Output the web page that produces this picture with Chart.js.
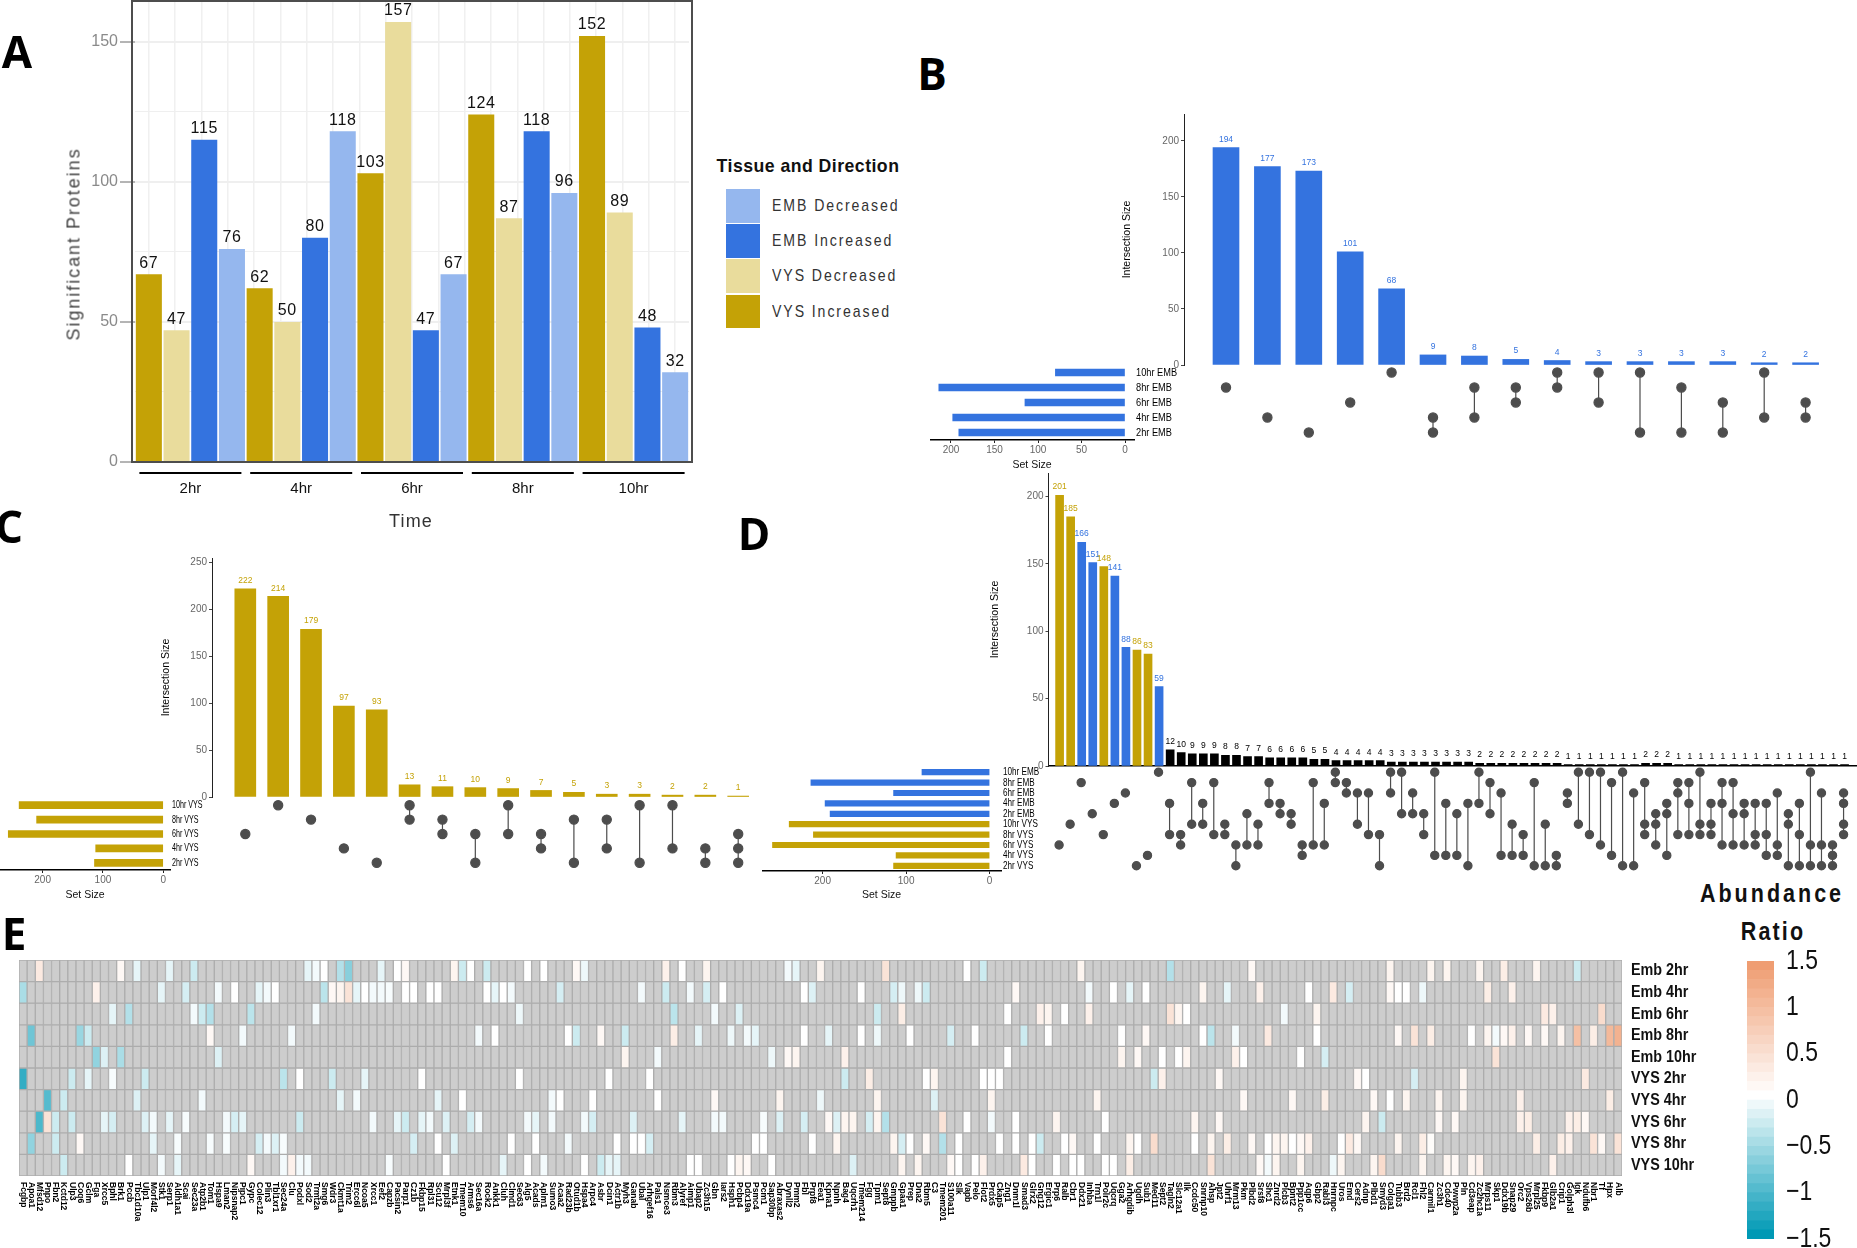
<!DOCTYPE html>
<html>
<head>
<meta charset="utf-8">
<title>Significant proteins by tissue and time</title>
<script src="https://cdn.jsdelivr.net/npm/chart.js@4"></script>
<style>
body { margin: 0; background: #fff; width: 1857px; height: 1248px; overflow: hidden; position: relative; }
canvas { position: absolute; }
.txt { position: absolute; white-space: nowrap; transform-origin: center; }
.swatch { position: absolute; }
</style>
</head>
<body>
<script>
// panel A
const timeLabels = ["2hr", "4hr", "6hr", "8hr", "10hr"];
const vysIncreased = [67, 62, 103, 124, 152];
const vysDecreased = [47, 50, 157, 87, 89];
const embIncreased = [115, 80, 47, 118, 48];
const embDecreased = [76, 118, 67, 96, 32];

// panel B
const bSetNames = ["10hr EMB", "8hr EMB", "6hr EMB", "4hr EMB", "2hr EMB"];
const bSetSizes = [80, 214, 115, 198, 191];
const bIntersections = [194, 177, 173, 101, 68, 9, 8, 5, 4, 3, 3, 3, 3, 2, 2];
const bMembers = [[1], [3], [4], [2], [0], [3, 4], [1, 3], [1, 2], [0, 1], [0, 2], [0, 4], [1, 4], [2, 4], [0, 3], [2, 3]];

// panel C
const cSetNames = ["10hr VYS", "8hr VYS", "6hr VYS", "4hr VYS", "2hr VYS"];
const cSetSizes = [239, 210, 257, 112, 114];
const cIntersections = [222, 214, 179, 97, 93, 13, 11, 10, 9, 7, 5, 3, 3, 2, 2, 1];
const cMembers = [[2], [0], [1], [3], [4], [0, 1], [1, 2], [2, 4], [0, 2], [2, 3], [1, 4], [1, 3], [0, 4], [0, 3], [3, 4], [2, 3, 4]];

// panel D
const dSetNames = ["10hr EMB", "8hr EMB", "6hr EMB", "4hr EMB", "2hr EMB", "10hr VYS", "8hr VYS", "6hr VYS", "4hr VYS", "2hr VYS"];
const dSetSizes = [81, 214, 115, 197, 191, 240, 211, 260, 112, 115];
const dIntersections = [201, 185, 166, 151, 148, 141, 88, 86, 83, 59,
  12, 10, 9, 9, 9, 8, 8, 7, 7, 6, 6, 6, 6, 5, 5, 4, 4, 4, 4, 4,
  3, 3, 3, 3, 3, 3, 3, 3, 2, 2, 2, 2, 2, 2, 2, 2,
  1, 1, 1, 1, 1, 1, 1, 2, 2, 2,
  1, 1, 1, 1, 1, 1, 1, 1, 1, 1, 1, 1, 1, 1, 1, 1];
const dSingleTissue = ["V", "V", "E", "E", "V", "E", "E", "V", "V", "E"];
const dMembers = [[7], [5], [1], [4], [6], [3], [2], [9], [8], [0],
  [3, 6], [6, 7], [1, 5], [3, 5], [1, 6], [5, 6], [7, 9], [4, 7], [5, 7], [1, 3], [3, 4], [4, 5], [7, 8], [1, 7],
  [3, 7], [0, 1], [1, 2], [2, 5], [2, 6], [6, 9], [0, 2], [0, 4], [2, 4], [4, 6], [0, 8], [3, 8], [4, 8], [3, 9],
  [0, 3], [1, 4], [2, 8], [5, 8], [6, 8], [1, 9], [5, 9], [8, 9], [2, 3], [0, 5], [0, 6], [0, 7], [1, 8], [0, 9], [2, 9],
  [1, 5, 6], [4, 5, 7], [3, 4, 8], [1, 2, 6], [1, 3, 6], [0, 5, 6], [3, 5, 6], [1, 3, 7], [1, 4, 7], [3, 4, 7], [3, 6, 7],
  [3, 6, 8], [2, 7, 8], [4, 5, 9], [3, 6, 9], [0, 7, 9], [2, 7, 9], [7, 8, 9], [2, 3, 5, 6]];

// panel E, every row lists [gene index, ratio], genes not listed have no value
const heatRowNames = ["Emb 2hr", "Emb 4hr", "Emb 6hr", "Emb 8hr", "Emb 10hr", "VYS 2hr", "VYS 4hr", "VYS 6hr", "VYS 8hr", "VYS 10hr"];
const emb2hr = [[2,.3],[12,.1],[14,-.15],[18,-.15],[21,-.3],[35,-.15],[36,-.07],[37,0],[39,-.45],[40,-.7],[44,-.15],[46,0],[47,.1],[53,.15],[54,-.3],[55,0],[57,-.3],[62,0],[64,0],[68,.1],[69,-.1],
  [79,.2],[81,0],[84,.15],[94,-.07],[95,-.15],[98,.15],[106,.4],[116,0],[118,-.3],[130,.15],[141,-.45],
  [151,.1],[168,.15],[173,.15],[175,.15],[179,.15],[182,.25],[186,.15],[191,-.3]];
const emb4hr = [[0,-.5],[9,.2],[17,-.15],[20,-.25],[24,-.07],[26,0],[29,-.15],[30,-.07],[31,0],[37,-.4],[38,.1],[39,.15],[40,.4],[41,-.15],[42,0],[43,-.07],[44,-.07],[45,-.05],[47,0],[48,0],[50,0],[51,0],[57,0],[58,-.15],[59,0],[60,-.07],[66,-.25],
  [76,-.07],[79,-.3],[82,-.07],[84,-.25],[86,0],[96,0],[97,-.2],[103,0],[107,-.25],[108,-.1],[110,-.1],[111,-.3],[122,.1],[131,-.07],[134,0],[136,-.15],[138,0],[145,.15],[148,-.15],
  [152,.2],[158,0],[161,.3],[163,-.25],[168,.1],[169,0],[170,0],[172,-.1],[180,.25],[183,.2]];
const emb6hr = [[11,-.15],[13,-.45],[21,-.07],[22,-.3],[23,-.45],[28,-.4],[36,-.07],[61,-.1],
  [80,-.4],[85,-.07],[88,-.2],[105,-.3],[108,.25],[121,0],[125,.2],[126,.15],[128,0],[131,.2],[141,.4],[142,.15],[143,0],
  [155,-.07],[159,.15],[187,.3],[188,.2],[194,.5]];
const emb8hr = [[1,-.85],[7,-.6],[8,-.3],[23,.1],[27,-.07],[33,-.07],[56,-.07],[58,0],[67,0],[68,-.3],[71,.1],
  [74,-.3],[80,.25],[83,-.15],[87,-.1],[89,-.07],[90,-.15],[96,0],[99,-.15],[103,0],[105,-.1],[109,0],[114,-.25],[117,0],[123,-.3],[126,0],[135,0],[138,.1],[145,0],[146,-.4],[149,-.07],
  [153,.3],[159,0],[169,.1],[171,.4],[173,.25],[178,0],[180,.15],[181,-.07],[182,.1],[183,.2],[185,.1],[187,.1],[189,.15],[191,.9],[193,.25],[195,1],[196,1.1]];
const emb10hr = [[9,-.65],[10,-.2],[12,-.5],[24,-.2],
  [74,.15],[78,-.07],[92,-.1],[94,.1],[95,.15],[101,.2],[121,0],[135,.15],[137,.1],[140,0],[142,0],[143,.15],[149,.2],
  [150,0],[157,0],[160,-.25],[181,.4]];
const vys2hr = [[0,-1.2],[6,-.3],[8,-.15],[11,-.05],[15,-.3],[32,-.4],[34,0],[38,-.3],[42,-.15],[49,0],[61,0],[72,0],
  [77,0],[101,-.3],[104,.25],[111,0],[112,.15],[118,0],[119,0],[120,0],[139,-.3],[140,.2],[147,.1],
  [164,.1],[165,0],[171,-.25],[177,.15],[192,.3]];
const vys4hr = [[3,-1],[5,-.3],[14,-.2],[22,-.07],[39,-.15],[41,-.07],[51,-.15],[54,0],[65,-.07],[66,0],[70,0],
  [78,0],[85,.1],[93,.15],[98,-.1],[105,.15],[112,-.2],[119,.15],[132,.15],
  [150,.1],[156,.1],[160,.25],[166,.1],[168,0],[170,.15],[174,.15],[177,.15],[184,.2],[195,.25]];
const vys6hr = [[2,-1.05],[3,.4],[4,-.3],[6,-.3],[10,-.15],[11,-.25],[15,-.2],[16,-.07],[18,-.15],[20,-.05],[25,-.07],[26,-.25],[27,-.15],[34,-.3],[43,-.07],[46,-.15],[47,-.3],[49,-.15],[50,-.07],[52,-.2],[55,-.25],[56,-.07],[62,-.07],[63,-.15],[65,-.07],[69,-.07],[70,-.25],
  [75,-.2],[81,-.15],[85,-.07],[86,-.07],[91,-.05],[93,-.2],[96,-.25],[99,.1],[100,-.2],[101,.15],[102,.15],[104,-.25],[105,.15],[106,-.45],[113,.4],[116,0],[119,-.07],[122,0],[127,.15],[133,0],[144,.15],[147,.1],
  [165,.15],[167,-.3],[174,.1],[176,.1],[184,.2],[185,.25],[190,.2],[191,.25],[192,.1]];
const vys8hr = [[1,-.65],[4,-.3],[7,.1],[16,-.15],[19,-.05],[23,-.05],[25,-.05],[29,-.25],[30,-.07],[31,-.2],[32,-.05],[48,-.25],[51,0],[53,-.2],[60,0],[63,0],[67,-.07],[73,0],
  [75,0],[76,0],[77,-.25],[90,0],[91,0],[97,0],[100,.15],[107,.15],[108,-.25],[109,0],[111,.1],[113,-.45],[115,0],[120,0],[122,0],[124,0],[125,-.3],[128,0],[129,.1],[132,0],[136,.15],[137,0],[139,.5],[144,0],[146,.15],[148,.25],
  [151,.1],[153,0],[154,.15],[155,.15],[156,0],[157,.1],[158,.2],[162,0],[163,.3],[164,.1],[169,.15],[172,.25],[173,.05],[186,.25],[189,.25],[190,.2],[193,.4],[194,.1],[196,.4]];
const vys10hr = [[5,-.3],[13,0],[17,-.07],[19,-.15],[28,.1],[32,-.07],[33,.2],[34,-.07],[35,-.07],[45,-.05],[52,0],[59,-.15],[62,0],[64,-.07],[69,0],[71,-.3],[72,-.15],[73,-.15],
  [82,0],[83,0],[87,0],[88,.15],[89,.1],[92,0],[102,-.2],[108,.15],[110,.15],[114,.1],[115,0],[117,0],[118,.2],[123,.3],[124,0],[127,0],[129,0],[130,0],[133,0],[134,0],[136,.25],[146,.4],
  [152,.1],[153,-.07],[154,.15],[157,.15],[161,-.1],[162,.15],[166,.15],[167,.5],[172,.15],[175,.15],[176,.1],[178,.15],[179,.2],[188,.2]];
const heatRows = [emb2hr, emb4hr, emb6hr, emb8hr, emb10hr, vys2hr, vys4hr, vys6hr, vys8hr, vys10hr];
const geneLabels = ["Fcgbp","Apoa1","Mfsd12","Pnpo","Fbn2","Kctd12","Ulp3","Coq6","Gclm","Fga","Xrcc5","Bphl","Brk1","Pccb","Tbc1d10a","Ulp1","Morf4l2","Stk1","Serp1","Aldh1a1","Scai","Sec23a","Atp2b1","Tom1","Hspa9","Lman2","Nipsnap2","Pipc1","Gypc","Colec12","Plin3","Tbl1xr1","Sec24a","Clu","Podxl","Sod2","Trmt2a","Smg6","Wdr3","Ckmt1a","Trim2","Ercc6l","Ncoa5","Xrcc1","Eef2","Capzb","Pacsin2","Parp1","Cz1b","Fkbp15","Rpl31","Scu12","Mrpl3f","Etnk1","Tmem10","Arms6","Sec16a","Rock2","Ankk1","Cluh","Clmd1","Sec63","Alg5","Acads","Aplm1","Sumo3","Acaa2","Rad23b","Otud1b","Hspa4","Arpc4","Asbr","Dcin1","Actr1b",
  "Myh3","Ganab","Ubal","Arhgef16","Pals1","Nsmce3","Rbm3","Alyref","Aimp1","Ubap2","Zc3h15","Gbn","Iars2","Hsph1","Pcbp4","Ddx19a","Psmc4","Pcm1","Sap30bp","Abraxas2","Dynll2","Pmm2","Fbl","Prpf8","Eea1","Kpna1","Npnh","Bag4","Uqcrh1","Tmem214","Fgg","Tpm1","Sept8","Gmppb","Gpaa1","Prep","Dna2","Rbm5","C3","Tmem201","S100a11","Slk","Vapb","Pelo","Flot2","Prdx5","Ckap5","Zng1","Dnm1l","Smad3","Glrx2","Gng12","Ergic1","Prp6","Ralb","Cbr1","Ddx21","Inhba","Trn1l","Polr2c","Uqcrq","Gga2","Arhgdib","Ugdh","Sub1","Med11","Sept2","Tagln2","Slc12a1","Ilk","Ccdc50","Snrnp10","Ahsp","Jpt2","Uhrf1","Mrm13",
  "Pkm","Plbd2","Srsf8","Shc1","Znrd2","Plcb3","Bpnt2","Ppp1cc","Aqp6","Gbp2","Rabl3","Hnrnpc","Uros","Emd","Cers2","Adnp","Plbd1","Smyd3","Colga1","Tubb3","Brd2","Rcl1","Fhl2","Carmil1","Zc3h1","Cdc40","Pwwp2a","Pln","Cd3eap","Zc2hc1a","Mrps11","Skp1","Ddx19b","Snap29","Orc2","Vps26b","Mrpl25","Fkbp9","Glb2a1","Crip1","Golph3l","Igk","Ndufb6","Nbr1","Tf","Hpx","Alb"];
const ratioBreaks = [-1.5,-1.4,-1.3,-1.2,-1.1,-1,-.9,-.8,-.7,-.6,-.5,-.4,-.3,-.2,-.1,0,.1,.2,.3,.4,.5,.6,.7,.8,.9,1,1.1,1.2,1.3,1.4];

const GOLD = "#c4a206", GOLD_LIGHT = "#e9dc9c", BLUE = "#3473df", BLUE_LIGHT = "#95b7ee", DOT = "#4d4d4d";
const SANS = '"Liberation Sans", sans-serif';

Chart.defaults.animation = false;
Chart.defaults.responsive = false;
Chart.defaults.devicePixelRatio = 1;
Chart.defaults.font.family = SANS;
Chart.defaults.plugins.legend.display = false;
Chart.defaults.plugins.tooltip.enabled = false;

function addCanvas(left, top, width, height) {
  const c = document.createElement("canvas");
  c.width = width;
  c.height = height;
  c.style.left = left + "px";
  c.style.top = top + "px";
  document.body.appendChild(c);
  return c;
}

function addText(text, cx, cy, css, transform) {
  const d = document.createElement("div");
  d.className = "txt";
  d.textContent = text;
  d.style.cssText = `left:${cx}px;top:${cy}px;transform:translate(-50%,-50%) ${transform || ""};${css}`;
  document.body.appendChild(d);
}

// keeps the plot area exactly where the margins put it
const fixBox = (w, h) => s => {
  if (w !== undefined) s.width = w;
  if (h !== undefined) s.height = h;
  s.paddingTop = s.paddingBottom = s.paddingLeft = s.paddingRight = 0;
};

const valueLabels = {
  id: "valueLabels",
  afterDatasetsDraw(chart, args, o) {
    const ctx = chart.ctx;
    ctx.save();
    ctx.font = o.labelFont;
    ctx.textAlign = "center";
    ctx.textBaseline = "bottom";
    ctx.letterSpacing = o.labelSpacing || "0px";
    chart.data.datasets.forEach((ds, i) => {
      chart.getDatasetMeta(i).data.forEach((bar, j) => {
        const v = ds.data[j];
        ctx.fillStyle = o.labelColor || ds.backgroundColor[j];
        ctx.fillText(v.y === undefined ? v : v.y, bar.x, bar.y - o.labelGap);
      });
    });
    ctx.restore();
  },
};

// tick labels of a right hand axis, pressed narrower than the font is
const narrowTicks = {
  id: "narrowTicks",
  afterDraw(chart, args, o) {
    const ctx = chart.ctx, s = chart.scales.y;
    ctx.save();
    ctx.font = o.tickFont;
    ctx.fillStyle = o.tickColor;
    ctx.textAlign = "left";
    ctx.textBaseline = "middle";
    s.ticks.forEach((t, i) => {
      ctx.save();
      ctx.translate(s.left + o.tickGap, s.getPixelForTick(i));
      ctx.scale(o.tickScale, 1);
      ctx.fillText(t.label, 0, 0);
      ctx.restore();
    });
    ctx.restore();
  },
};

// frame and the group rules below panel A
const frameA = {
  id: "frameA",
  afterDraw(chart) {
    const { ctx, chartArea: a, scales } = chart;
    ctx.save();
    ctx.strokeStyle = "#4d4d4d";
    ctx.lineWidth = 2;
    ctx.strokeRect(a.left - 3, a.top, a.right - a.left + 6, a.bottom - a.top);
    ctx.strokeStyle = "#000";
    timeLabels.forEach((t, i) => {
      const x = scales.x.getPixelForTick(i);
      ctx.beginPath();
      ctx.moveTo(x - 51, a.bottom + 11);
      ctx.lineTo(x + 51, a.bottom + 11);
      ctx.stroke();
    });
    ctx.restore();
  },
};

// panel A chart
const aLeft = 135, aTop = 1, aRight = 689, aBottom = 462;
const gridAt = Array.from({ length: 20 }, (_, i) => i + 0.5);
new Chart(addCanvas(0, 0, aRight + 6, aBottom + 60), {
  type: "bar",
  data: {
    labels: timeLabels,
    datasets: [
      { label: "VYS Increased", data: vysIncreased, backgroundColor: vysIncreased.map(() => GOLD) },
      { label: "VYS Decreased", data: vysDecreased, backgroundColor: vysDecreased.map(() => GOLD_LIGHT) },
      { label: "EMB Increased", data: embIncreased, backgroundColor: embIncreased.map(() => BLUE) },
      { label: "EMB Decreased", data: embDecreased, backgroundColor: embDecreased.map(() => BLUE_LIGHT) },
    ],
  },
  options: {
    layout: { padding: { top: aTop, right: 6 } },
    datasets: { bar: { barPercentage: 0.94, categoryPercentage: 1 } },
    scales: {
      x: {
        grid: { display: false }, border: { display: false },
        ticks: { color: "#111", font: { size: 15 }, padding: 10 },
        afterFit: fixBox(undefined, 60),
      },
      xg: {
        type: "linear", position: "bottom", min: 0, max: 20,
        grid: { color: "#f0f0f0", lineWidth: 1.5, drawTicks: false }, border: { display: false },
        ticks: { display: false, autoSkip: false },
        afterBuildTicks: s => { s.ticks = gridAt.map(v => ({ value: v })); },
        afterFit: fixBox(undefined, 0),
      },
      y: {
        min: 0, max: 164.5,
        ticks: {
          stepSize: 25, includeBounds: false, color: "#8a8a8a", font: { size: 16 }, padding: 2,
          callback: v => (v % 50 === 0 ? v : ""),
        },
        grid: {
          color: "#efefef", tickLength: 15,
          lineWidth: c => (c.tick && c.tick.value % 50 === 0 ? 2 : 1),
          tickColor: c => (c.tick && c.tick.value % 50 === 0 ? "#6a6a6a" : "rgba(0,0,0,0)"),
          tickWidth: 1,
        },
        border: { display: false },
        afterFit: fixBox(aLeft),
      },
    },
    plugins: { valueLabels: { labelFont: "16px " + SANS, labelColor: "#111", labelGap: 3, labelSpacing: "0.6px" } },
  },
  plugins: [valueLabels, frameA],
});

function drawUpset(g, names, setSizes, sizes, members, colors) {
  // intersection bars
  const titleLeft = g.titleX - 7;
  new Chart(addCanvas(titleLeft, g.top - 6, g.right - titleLeft, g.base - g.top + 14), {
    type: "bar",
    data: {
      datasets: [{
        data: sizes.map((v, i) => ({ x: i, y: v })),
        backgroundColor: colors,
        barThickness: g.barW,
      }],
    },
    options: {
      layout: { padding: { top: 6, bottom: 8 } },
      scales: {
        x: {
          type: "linear", offset: false, display: !!g.baseLine,
          min: (g.axisX - g.c0) / g.step, max: (g.right - g.c0) / g.step,
          grid: { display: false }, border: { color: "#000", width: 1.5 },
          ticks: { display: false },
          afterFit: fixBox(undefined, 0),
        },
        y: {
          min: 0, max: g.yMax,
          ticks: { stepSize: 50, includeBounds: false, color: "#666", font: { size: 10 }, padding: 2 },
          grid: { drawOnChartArea: false, tickLength: 3, color: "#444" },
          border: { color: "#222", width: 1 },
          title: { display: true, text: "Intersection Size", color: "#000", font: { size: 10.5 }, padding: 0 },
          afterFit: fixBox(g.axisX - titleLeft),
        },
      },
      plugins: { valueLabels: { labelFont: g.valueFont, labelGap: 4 } },
    },
    plugins: [valueLabels],
  });

  // dots and connecting lines, same x range as the bars
  const matTop = g.rowY0 - g.rowStep / 2, matH = g.rowStep * names.length;
  new Chart(addCanvas(g.axisX, matTop, g.right - g.axisX, matH), {
    type: "scatter",
    data: {
      datasets: members.map((rows, i) => ({
        data: rows.map(r => ({ x: i, y: r })),
        showLine: true,
        borderColor: DOT,
        backgroundColor: DOT,
        borderWidth: 1.2,
        pointRadius: g.dot,
        clip: false,
      })),
    },
    options: {
      layout: { autoPadding: false },
      scales: {
        x: { type: "linear", display: false, min: (g.axisX - g.c0) / g.step, max: (g.right - g.c0) / g.step },
        y: { type: "linear", display: false, reverse: true, min: -0.5, max: names.length - 0.5 },
      },
    },
  });

  // set size bars on the left, row names on their right
  new Chart(addCanvas(g.setLeft, matTop, g.setRight - g.setLeft + g.nameW, matH + g.setAxisH), {
    type: "bar",
    data: { labels: names, datasets: [{ data: setSizes, backgroundColor: g.setColors, barThickness: g.setBarH }] },
    options: {
      indexAxis: "y",
      scales: {
        x: {
          reverse: true, offset: false,
          min: -(g.setRight - g.setZero) / g.setUnit, max: (g.setZero - g.setLeft) / g.setUnit,
          ticks: { stepSize: g.setTick, includeBounds: false, color: "#666", font: { size: 10 }, padding: 1 },
          grid: { drawOnChartArea: false, tickLength: 3, color: "#222" },
          border: { color: "#000", width: 1.5 },
          title: { display: true, text: "Set Size", color: "#111", font: { size: 10.5 }, padding: 0 },
          afterFit: fixBox(undefined, g.setAxisH),
        },
        y: {
          position: "right",
          grid: { display: false }, border: { display: false },
          ticks: { display: false, autoSkip: false },
          afterFit: fixBox(g.nameW),
        },
      },
      plugins: { narrowTicks: { tickFont: "11px " + SANS, tickColor: "#000", tickGap: 2, tickScale: g.nameScale } },
    },
    plugins: [narrowTicks],
  });
}

const goldBars = n => Array.from({ length: n }, () => GOLD);
const blueBars = n => Array.from({ length: n }, () => BLUE);

drawUpset({
  axisX: 1184, top: 114, base: 365, yMax: 224, c0: 1226, step: 41.4, right: 1829, barW: 26, titleX: 1128,
  rowY0: 372.7, rowStep: 15, dot: 4.6, setZero: 1125, setUnit: 0.87, setLeft: 930, setRight: 1134, setTick: 50,
  setBarH: 7, setAxisH: 31, nameW: 46, nameScale: 0.84, setColors: blueBars(5), valueFont: "8.5px " + SANS,
}, bSetNames, bSetSizes, bIntersections, bMembers, blueBars(bIntersections.length));

drawUpset({
  axisX: 212, top: 558, base: 797.7, yMax: 255, c0: 245.3, step: 32.86, right: 760, barW: 21, titleX: 167,
  rowY0: 805.3, rowStep: 14.5, dot: 4.6, setZero: 163.8, setUnit: 0.605, setLeft: 0, setRight: 170.6, setTick: 100,
  setBarH: 7, setAxisH: 31, nameW: 38, nameScale: 0.65, setColors: goldBars(5), valueFont: "8.5px " + SANS,
}, cSetNames, cSetSizes, cIntersections, cMembers, goldBars(cIntersections.length));

drawUpset({
  axisX: 1048.2, top: 473, base: 766, yMax: 217.5, c0: 1059.3, step: 11.06, right: 1857, barW: 8, titleX: 995.7,
  baseLine: true, rowY0: 772.7, rowStep: 10.45, dot: 4.1, setZero: 989.6, setUnit: 0.835, setLeft: 762, setRight: 1001, setTick: 100,
  setBarH: 5.5, setAxisH: 30, nameW: 42, nameScale: 0.74,
  setColors: dSetNames.map(n => (n.includes("EMB") ? BLUE : GOLD)), valueFont: "8.5px " + SANS,
}, dSetNames, dSetSizes, dIntersections, dMembers,
  dIntersections.map((v, i) => (i < dSingleTissue.length ? (dSingleTissue[i] === "V" ? GOLD : BLUE) : "#000")));

// heatmap colours: white at 0, teal below, orange above
function mix(hex, t) {
  const n = parseInt(hex.slice(1), 16);
  const ch = s => Math.round(255 + (((n >> s) & 255) - 255) * t);
  return `rgb(${ch(16)},${ch(8)},${ch(0)})`;
}
function ratioColor(v) {
  return v >= 0 ? mix("#ee9668", Math.min(v / 1.5, 1)) : mix("#0099b5", Math.min(-v / 1.5, 1));
}

const geneNames = {
  id: "geneNames",
  afterDraw(chart) {
    const { ctx, chartArea: a, scales } = chart;
    ctx.save();
    ctx.font = "bold 8.5px " + SANS;
    ctx.fillStyle = "#000";
    ctx.textAlign = "left";
    ctx.textBaseline = "middle";
    geneLabels.forEach((g, i) => {
      ctx.save();
      ctx.translate(scales.x.getPixelForTick(i), a.bottom + 6);
      ctx.rotate(Math.PI / 2);
      ctx.fillText(g, 0, 0);
      ctx.restore();
    });
    ctx.restore();
  },
};

const hL = 18.6, hR = 1622, hT = 960, hB = 1176;
new Chart(addCanvas(hL, hT, 1740 - hL, 1248 - hT), {
  type: "bar",
  data: {
    labels: geneLabels,
    datasets: heatRows.map(row => {
      const byGene = new Map(row);
      return {
        data: geneLabels.map(() => 1),
        backgroundColor: c => (byGene.has(c.dataIndex) ? ratioColor(byGene.get(c.dataIndex)) : "#cdcdcd"),
        borderColor: "#adadad",
        borderWidth: 1,
        borderSkipped: false,
        barPercentage: 1,
        categoryPercentage: 1,
      };
    }),
  },
  options: {
    scales: {
      x: {
        stacked: true, grid: { display: false }, border: { display: false }, ticks: { display: false },
        afterFit: fixBox(undefined, 1248 - hB),
      },
      y: {
        stacked: true, reverse: true, min: 0, max: 10, position: "right",
        grid: { display: false }, border: { display: false },
        afterBuildTicks: s => { s.ticks = heatRowNames.map((n, i) => ({ value: i + 0.5 })); },
        ticks: { display: false, autoSkip: false, callback: v => heatRowNames[Math.floor(v)] },
        afterFit: fixBox(1740 - hR),
      },
    },
    plugins: { narrowTicks: { tickFont: "bold 16.5px " + SANS, tickColor: "#111", tickGap: 9, tickScale: 0.87 } },
  },
  plugins: [geneNames, narrowTicks],
});

// colour key
const kT = 961, kB = 1239;
new Chart(addCanvas(1747, kT - 14, 110, kB - kT + 23), {
  type: "bar",
  data: {
    labels: ["ratio"],
    datasets: ratioBreaks.map(b => ({
      data: [[b, b + 0.1]],
      backgroundColor: ratioColor(b),
      barPercentage: 1,
      categoryPercentage: 1,
      grouped: false,
    })),
  },
  options: {
    layout: { padding: { top: 14, bottom: 9 } },
    scales: {
      x: { display: false },
      y: {
        position: "right", min: -1.5, max: 1.5,
        grid: { display: false }, border: { display: false },
        ticks: {
          display: false, stepSize: 0.5,
          callback: v => String(v).replace("-", "\u2212"),
        },
        afterFit: fixBox(83),
      },
    },
    plugins: { narrowTicks: { tickFont: "28px " + SANS, tickColor: "#111", tickGap: 12, tickScale: 0.82 } },
  },
  plugins: [narrowTicks],
});

// panel letters and the free standing titles
const letterCss = 'font:bold 44px "Open Sans",sans-serif;color:#000;';
addText("A", 17, 51, letterCss);
addText("B", 932, 73, letterCss);
addText("C", 9, 526, letterCss);
addText("D", 754, 533, letterCss);
addText("E", 14, 933, letterCss);

addText("Significant Proteins", 74, 244, `font:18px ${SANS};letter-spacing:1.95px;color:#444;`, "rotate(-90deg)");
addText("Time", 411, 521, `font:18px ${SANS};letter-spacing:1.2px;color:#333;`);
addText("Tissue and Direction", 808, 166, `font:bold 19px ${SANS};letter-spacing:0.5px;color:#111;`, "scaleX(0.93)");
addText("Abundance", 1772, 893, `font:bold 25px ${SANS};letter-spacing:3.5px;color:#111;`, "scaleX(0.86)");
addText("Ratio", 1773, 931, `font:bold 25px ${SANS};letter-spacing:2.5px;color:#111;`, "scaleX(0.86)");

// legend of panel A
const legendNames = ["EMB Decreased", "EMB Increased", "VYS Decreased", "VYS Increased"];
const legendColors = [BLUE_LIGHT, BLUE, GOLD_LIGHT, GOLD];
legendNames.forEach((n, i) => {
  const s = document.createElement("div");
  s.className = "swatch";
  s.style.cssText = `left:726px;top:${189 + i * 35.2}px;width:34px;height:33.5px;background:${legendColors[i]};`;
  document.body.appendChild(s);
  const d = document.createElement("div");
  d.className = "txt";
  d.textContent = n;
  d.style.cssText = `left:772px;top:${196 + i * 35.2}px;font:17px ${SANS};letter-spacing:2.3px;color:#333;transform-origin:left center;transform:scaleX(0.83);`;
  document.body.appendChild(d);
});
</script>
</body>
</html>
